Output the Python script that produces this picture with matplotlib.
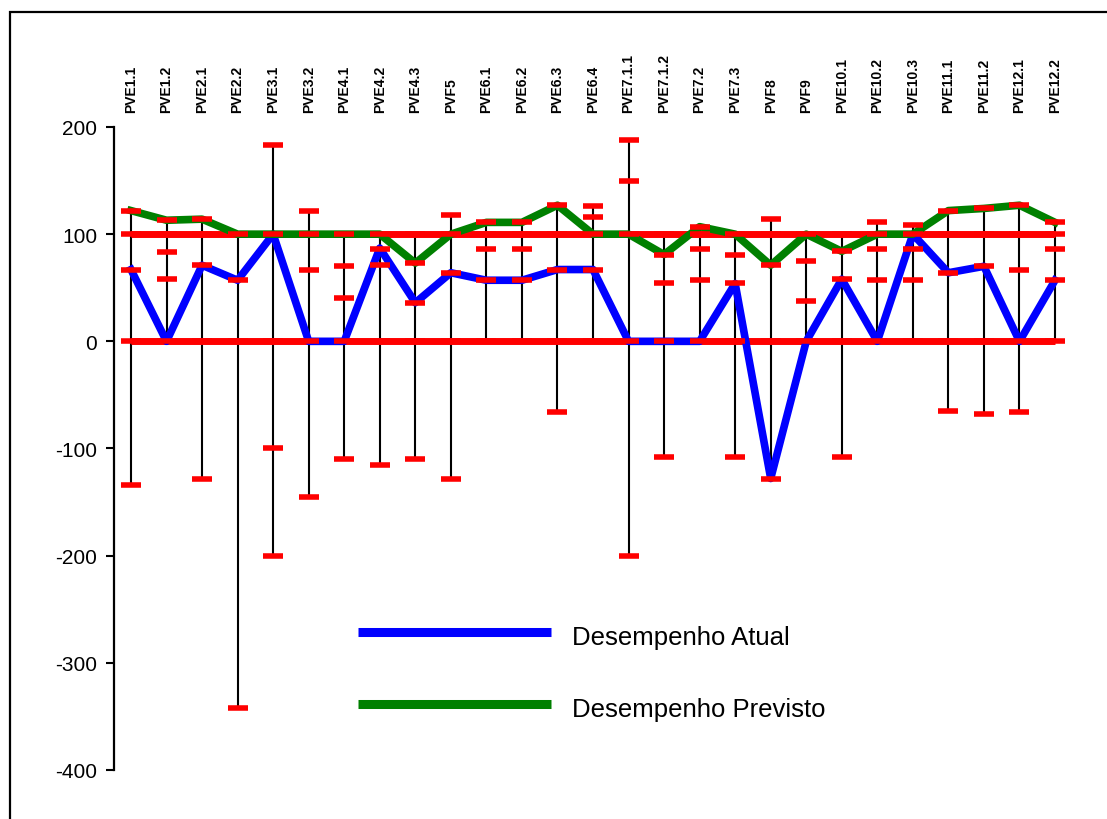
import matplotlib
matplotlib.use("Agg")
import matplotlib.pyplot as plt
from matplotlib.lines import Line2D
from matplotlib.patches import Rectangle

plt.rcParams['font.family'] = ['Liberation Sans', 'DejaVu Sans']
plt.rcParams['axes.unicode_minus'] = False

# categorias (eixo superior)
rotulos = ["PVE1.1", "PVE1.2", "PVE2.1", "PVE2.2", "PVE3.1", "PVE3.2", "PVE4.1",
           "PVE4.2", "PVE4.3", "PVF5", "PVE6.1", "PVE6.2", "PVE6.3", "PVE6.4",
           "PVE7.1.1", "PVE7.1.2", "PVE7.2", "PVE7.3", "PVF8", "PVF9", "PVE10.1",
           "PVE10.2", "PVE10.3", "PVE11.1", "PVE11.2", "PVE12.1", "PVE12.2"]

# desempenho atual / previsto
atual = [67, 0, 71, 57, 100, 0, 0, 87, 36, 64, 57, 57, 67, 67,
         0, 0, 0, 54, -128, 0, 58, 0, 100, 64, 70, 0, 57]
previsto = [122, 113, 114, 100, 100, 100, 100, 100, 73, 100, 111, 111, 127, 100,
            100, 81, 107, 100, 71, 100, 84, 100, 100, 122, 124, 127, 111]

# niveis de referencia (linhas vermelhas)
nivel_bom = 100
nivel_neutro = 0

# marcas de cada indicador (alem de 0 e 100)
marcas = [
    [122, 67, -134],
    [113, 83, 58],
    [114, 71, -128],
    [57, -342],
    [183, -100, -200],
    [122, 67, -145],
    [70, 40, -110],
    [86, 71, -115],
    [73, 36, -110],
    [118, 64, -128],
    [111, 86, 57],
    [111, 86, 57],
    [127, 67, -66],
    [126, 116, 67],
    [188, 150, -200],
    [81, 54, -108],
    [107, 86, 57],
    [81, 54, -108],
    [114, 71, -128],
    [75, 38],
    [84, 58, -108],
    [111, 86, 57],
    [109, 86, 57],
    [122, 64, -65],
    [124, 70, -68],
    [127, 67, -66],
    [111, 86, 57],
]

x = list(range(len(rotulos)))

fig = plt.figure(figsize=(11.07, 8.20), dpi=100)
ax = fig.add_axes([114 / 1107, 49 / 820, (1072 - 114) / 1107, (771 - 128) / 820])

# moldura externa
fig.patches.append(Rectangle((10 / 1107, -0.05), 1.1, 0.05 + (820 - 13) / 820,
                             transform=fig.transFigure, fill=False,
                             edgecolor='black', linewidth=1.6))

# linhas verticais (minimo ao maximo)
lo = [min(m + [nivel_neutro, nivel_bom]) for m in marcas]
hi = [max(m + [nivel_neutro, nivel_bom]) for m in marcas]
ax.vlines(x, lo, hi, color='black', linewidth=1.5, zorder=1)

# linhas de referencia
ax.plot(x, [nivel_bom] * len(x), color='red', linewidth=5, solid_capstyle='butt', zorder=2)
ax.plot(x, [nivel_neutro] * len(x), color='red', linewidth=5, solid_capstyle='butt', zorder=2)

ax.plot(x, atual, color='#0000ff', linewidth=5.5, zorder=3)
ax.plot(x, previsto, color='#008000', linewidth=5.5, zorder=4)

# marcas vermelhas
for i, m in enumerate(marcas):
    vals = m + [nivel_neutro, nivel_bom]
    ax.plot([i] * len(vals), vals, linestyle='none', marker='_', markersize=15,
            markeredgewidth=4, color='red', zorder=5)

ax.set_xlim(-0.478, len(x) - 1 + 0.478)
ax.set_ylim(-400, 200)
ax.set_yticks([200, 100, 0, -100, -200, -300, -400])
ax.tick_params(axis='y', labelsize=15, length=6, width=1.5, pad=6, direction='out')

ax.xaxis.tick_top()
ax.set_xticks(x)
ax.set_xticklabels(rotulos, rotation=90, fontsize=10, fontweight='bold')
ax.tick_params(axis='x', length=0, pad=11)

for s in ['top', 'right', 'bottom']:
    ax.spines[s].set_visible(False)
ax.spines['left'].set_linewidth(1.6)

# legenda
fig.add_artist(Line2D([358 / 1107, 551 / 1107], [1 - 633 / 820, 1 - 633 / 820],
                      color='#0000ff', linewidth=6.5, solid_capstyle='butt'))
fig.add_artist(Line2D([358 / 1107, 551 / 1107], [1 - 705 / 820, 1 - 705 / 820],
                      color='#008000', linewidth=6.5, solid_capstyle='butt'))
fig.text(572 / 1107, 1 - 638 / 820, "Desempenho Atual", fontsize=18.5, va='center')
fig.text(572 / 1107, 1 - 710 / 820, "Desempenho Previsto", fontsize=18.5, va='center')

fig.savefig("out.png", dpi=100, facecolor='white')
